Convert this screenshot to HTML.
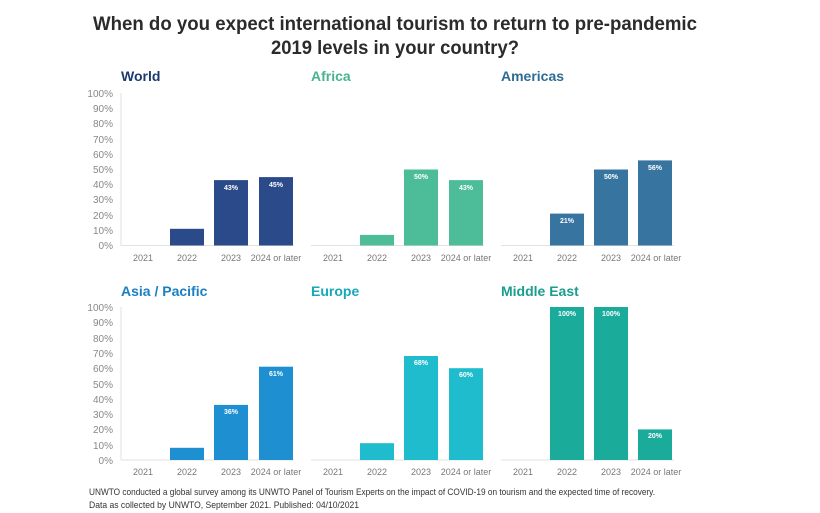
<!DOCTYPE html>
<html><head><meta charset="utf-8"><style>
body{margin:0;background:#fff;}
svg{display:block;font-family:"Liberation Sans",sans-serif;}
.t{font-size:19px;font-weight:bold;fill:#2b2b2b;text-anchor:middle}
.p{font-size:14px;font-weight:bold}
.y{font-size:10px;fill:#888;text-anchor:end}
.x{font-size:9px;fill:#777;text-anchor:middle}
.v{font-size:7px;font-weight:bold;fill:#fff;text-anchor:middle}
.b{stroke:#e2e2e2;stroke-width:1}
.f{font-size:9.5px;fill:#333}
</style></head><body>
<svg width="820" height="513" viewBox="0 0 820 513">
<text class="t" x="395" y="30" textLength="604" lengthAdjust="spacingAndGlyphs">When do you expect international tourism to return to pre-pandemic</text>
<text class="t" x="395" y="54" textLength="248" lengthAdjust="spacingAndGlyphs">2019 levels in your country?</text>

<text class="p" x="121" y="81" fill="#1e3a6e">World</text>
<text class="p" x="311" y="81" fill="#49b38d">Africa</text>
<text class="p" x="501" y="81" fill="#2e6c94">Americas</text>
<text class="p" x="121" y="296" fill="#1a80c2">Asia / Pacific</text>
<text class="p" x="311" y="296" fill="#17a8b8">Europe</text>
<text class="p" x="501" y="296" fill="#1a9d8c">Middle East</text>

<g>
<line class="b" x1="121" y1="93" x2="121" y2="246"/>
<text class="y" x="113" y="97">100%</text><text class="y" x="113" y="112">90%</text><text class="y" x="113" y="127">80%</text><text class="y" x="113" y="143">70%</text><text class="y" x="113" y="158">60%</text><text class="y" x="113" y="173">50%</text><text class="y" x="113" y="188">40%</text><text class="y" x="113" y="203">30%</text><text class="y" x="113" y="219">20%</text><text class="y" x="113" y="234">10%</text><text class="y" x="113" y="249">0%</text>
<line class="b" x1="121" y1="307" x2="121" y2="460"/>
<text class="y" x="113" y="311">100%</text><text class="y" x="113" y="326">90%</text><text class="y" x="113" y="342">80%</text><text class="y" x="113" y="357">70%</text><text class="y" x="113" y="372">60%</text><text class="y" x="113" y="388">50%</text><text class="y" x="113" y="403">40%</text><text class="y" x="113" y="418">30%</text><text class="y" x="113" y="433">20%</text><text class="y" x="113" y="449">10%</text><text class="y" x="113" y="464">0%</text>
</g>

<g class="b">
<line x1="121" y1="245.5" x2="294" y2="245.5"/><line x1="311" y1="245.5" x2="484" y2="245.5"/><line x1="501" y1="245.5" x2="674" y2="245.5"/>
<line x1="121" y1="460" x2="294" y2="460"/><line x1="311" y1="460" x2="484" y2="460"/><line x1="501" y1="460" x2="674" y2="460"/>
</g>

<g class="x">
<text x="143" y="261">2021</text><text x="187" y="261">2022</text><text x="231" y="261">2023</text><text x="276" y="261">2024 or later</text>
<text x="333" y="261">2021</text><text x="377" y="261">2022</text><text x="421" y="261">2023</text><text x="466" y="261">2024 or later</text>
<text x="523" y="261">2021</text><text x="567" y="261">2022</text><text x="611" y="261">2023</text><text x="656" y="261">2024 or later</text>
<text x="143" y="475">2021</text><text x="187" y="475">2022</text><text x="231" y="475">2023</text><text x="276" y="475">2024 or later</text>
<text x="333" y="475">2021</text><text x="377" y="475">2022</text><text x="421" y="475">2023</text><text x="466" y="475">2024 or later</text>
<text x="523" y="475">2021</text><text x="567" y="475">2022</text><text x="611" y="475">2023</text><text x="656" y="475">2024 or later</text>
</g>

<g fill="#2a4a8a">
<rect x="170" y="228.8" width="34" height="16.7"/>
<rect x="214" y="180.1" width="34" height="65.4"/>
<rect x="259" y="177.1" width="34" height="68.4"/>
</g>
<text class="v" x="231" y="190">43%</text><text class="v" x="276" y="187">45%</text>
<g fill="#4dbd99">
<rect x="360" y="234.9" width="34" height="10.6"/>
<rect x="404" y="169.5" width="34" height="76"/>
<rect x="449" y="180.1" width="34" height="65.4"/>
</g>
<text class="v" x="421" y="179">50%</text><text class="v" x="466" y="190">43%</text>
<g fill="#3874a0">
<rect x="550" y="213.6" width="34" height="31.9"/>
<rect x="594" y="169.5" width="34" height="76"/>
<rect x="638" y="160.4" width="34" height="85.1"/>
</g>
<text class="v" x="567" y="223">21%</text><text class="v" x="611" y="179">50%</text><text class="v" x="655" y="170">56%</text>
<g fill="#1e8fd0">
<rect x="170" y="447.8" width="34" height="12.2"/>
<rect x="214" y="404.9" width="34" height="55.1"/>
<rect x="259" y="366.7" width="34" height="93.3"/>
</g>
<text class="v" x="231" y="414">36%</text><text class="v" x="276" y="376">61%</text>
<g fill="#1fbccd">
<rect x="360" y="443.2" width="34" height="16.8"/>
<rect x="404" y="356" width="34" height="104"/>
<rect x="449" y="368.2" width="34" height="91.8"/>
</g>
<text class="v" x="421" y="365">68%</text><text class="v" x="466" y="377">60%</text>
<g fill="#1aab9b">
<rect x="550" y="307" width="34" height="153"/>
<rect x="594" y="307" width="34" height="153"/>
<rect x="638" y="429.4" width="34" height="30.6"/>
</g>
<text class="v" x="567" y="316">100%</text><text class="v" x="611" y="316">100%</text><text class="v" x="655" y="438">20%</text>

<text class="f" x="89" y="495" textLength="566" lengthAdjust="spacingAndGlyphs">UNWTO conducted a global survey among its UNWTO Panel of Tourism Experts on the impact of COVID-19 on tourism and the expected time of recovery.</text>
<text class="f" x="89" y="508" textLength="270" lengthAdjust="spacingAndGlyphs">Data as collected by UNWTO, September 2021. Published: 04/10/2021</text>
</svg>
</body></html>
